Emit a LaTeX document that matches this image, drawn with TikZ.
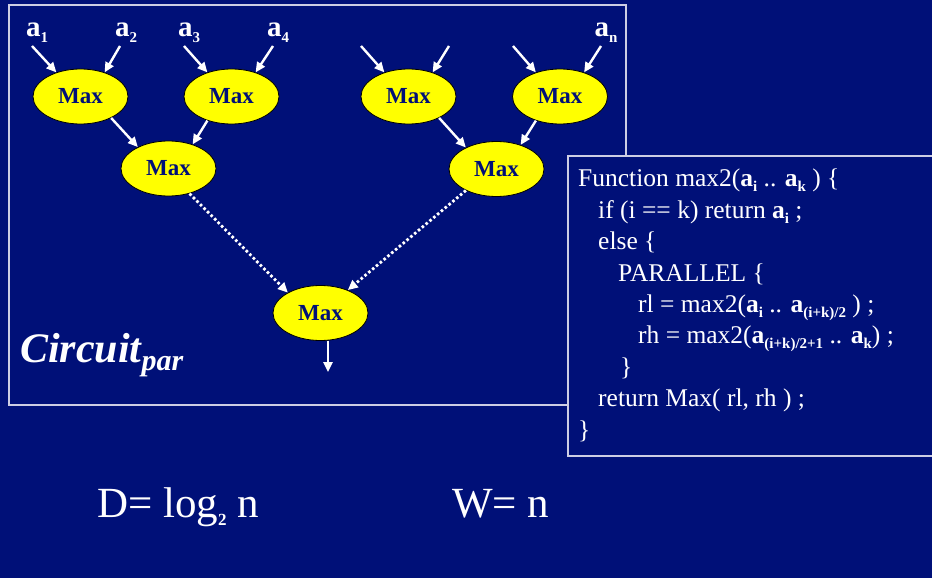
\documentclass[tikz,border=0pt]{standalone}
\usepackage{fontspec}
\setmainfont{Liberation Serif}
\usetikzlibrary{arrows.meta,shapes.geometric}

\definecolor{slidebg}{RGB}{0,16,120}
\definecolor{framecol}{RGB}{205,205,228}
\definecolor{maxfill}{RGB}{255,255,0}

% lowered subscript with explicit size
\newcommand{\sbsc}[2]{\raisebox{-0.2em}{\fontsize{#1}{#1}\selectfont #2}}
% bold a with bold index (code box)
\newcommand{\bidx}[1]{\textbf{a}\sbsc{15}{\textbf{#1}}}

\begin{document}
\begin{tikzpicture}[x=1pt,y=-1pt,
  maxnode/.style={ellipse,draw=black,line width=0.8pt,fill=maxfill,
    minimum width=95pt,minimum height=55pt,inner sep=0pt,
    font=\fontsize{23}{26}\selectfont\bfseries,text=slidebg},
  inlabel/.style={anchor=base,inner sep=0pt,text=white,
    font=\fontsize{29}{32}\selectfont\bfseries},
  arr/.style={draw=white,line width=2.4pt,-{Triangle[length=10pt,width=9pt]}},
  dotarr/.style={arr,line width=2.8pt,dash pattern=on 2.6pt off 2.4pt},
  frame/.style={draw=framecol,line width=1.2pt},
  bigtext/.style={anchor=base west,inner sep=0pt,text=white,
    font=\fontsize{43}{46}\selectfont}
]
\fill[slidebg] (0,0) rectangle (932,578);
\useasboundingbox (0,0) rectangle (932,578);

% circuit frame
\draw[frame] (9,5) rectangle (626,405);

% Max nodes
\node[maxnode] (m1) at (80.5,96.5) {Max};
\node[maxnode] (m2) at (231.5,96.5) {Max};
\node[maxnode] (m3) at (408.5,96.5) {Max};
\node[maxnode] (m4) at (560,96.5) {Max};
\node[maxnode] (n1) at (168.5,168.5) {Max};
\node[maxnode] (n2) at (496.5,169) {Max};
\node[maxnode] (root) at (320.5,313) {Max};

% input labels
\node[inlabel] (a1) at (37,37) {a\sbsc{15}{1}};
\node[inlabel] (a2) at (126,37) {a\sbsc{15}{2}};
\node[inlabel] (a3) at (189,37) {a\sbsc{15}{3}};
\node[inlabel] (a4) at (278,37) {a\sbsc{15}{4}};
\node[inlabel] (an) at (606,37) {a\sbsc{15}{n}};

% input arrows
\coordinate (s1) at (32,46);
\coordinate (s2) at (120,46);
\coordinate (s3) at (184,46);
\coordinate (s4) at (273,46);
\coordinate (s5) at (361,46);
\coordinate (s6) at (449,46);
\coordinate (s7) at (513,46);
\coordinate (s8) at (601,46);
\draw[arr] (s1) -- (m1.135);
\draw[arr] (s2) -- (m1.45);
\draw[arr] (s3) -- (m2.135);
\draw[arr] (s4) -- (m2.45);
\draw[arr] (s5) -- (m3.135);
\draw[arr] (s6) -- (m3.45);
\draw[arr] (s7) -- (m4.135);
\draw[arr] (s8) -- (m4.45);

% second level
\draw[arr] (m1.-35) -- (n1.145);
\draw[arr] (m2.-135) -- (n1.45);
\draw[arr] (m3.-35) -- (n2.145);
\draw[arr] (m4.-135) -- (n2.45);

% omitted levels
\draw[dotarr] (n1.-50) -- (root.148);
\draw[dotarr] (n2.215) -- (root.40);

% output
\coordinate (out) at (328,372);
\draw[arr] (out |- root.south) -- (out);

\node[anchor=base west,inner sep=0pt,text=white,
  font=\fontsize{42}{46}\selectfont\bfseries\itshape] (title) at (20,362)
  {Circuit\sbsc{30}{par}};

% code box
\draw[frame,fill=slidebg] (568,156) rectangle (945,456);
\node[anchor=north west,align=left,inner sep=0pt,text=white,
  font=\fontsize{25.5}{31.4}\selectfont] (code) at (578,169)
  {Function max2(\bidx{i} .. \bidx{k} ) \{\\
   \hspace*{20pt}if (i == k) return \bidx{i} ;\\
   \hspace*{20pt}else \{\\
   \hspace*{40pt}PARALLEL \{\\
   \hspace*{60pt}rl = max2(\bidx{i} .. \bidx{(i+k)/2} ) ;\\
   \hspace*{60pt}rh = max2(\bidx{(i+k)/2+1} .. \bidx{k}) ;\\
   \hspace*{42pt}\}\\
   \hspace*{20pt}return Max( rl, rh ) ;\\
   \}};

% cost
\node[bigtext] (depth) at (97,517) {D= log\sbsc{17}{\textbf{2}} n};
\node[bigtext] (work) at (452,517) {W= n};
\end{tikzpicture}
\end{document}
